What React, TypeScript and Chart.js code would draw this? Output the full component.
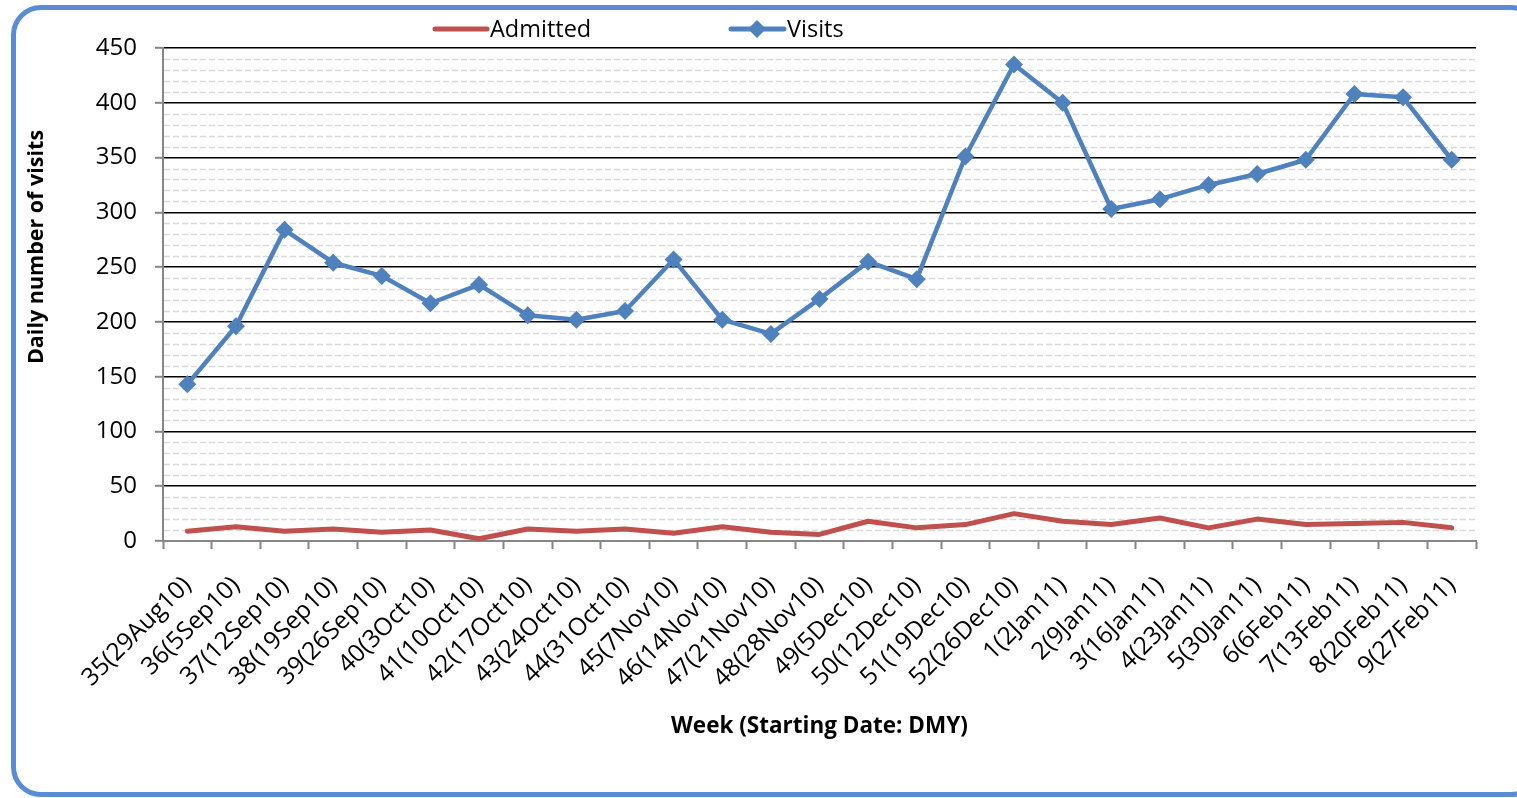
import React, { useEffect, useRef } from "react";
import { Chart, registerables } from "chart.js";

Chart.register(...registerables);

const weekLabels = [
  "35(29Aug10)", "36(5Sep10)", "37(12Sep10)", "38(19Sep10)", "39(26Sep10)",
  "40(3Oct10)", "41(10Oct10)", "42(17Oct10)", "43(24Oct10)", "44(31Oct10)",
  "45(7Nov10)", "46(14Nov10)", "47(21Nov10)", "48(28Nov10)", "49(5Dec10)",
  "50(12Dec10)", "51(19Dec10)", "52(26Dec10)", "1(2Jan11)", "2(9Jan11)",
  "3(16Jan11)", "4(23Jan11)", "5(30Jan11)", "6(6Feb11)", "7(13Feb11)",
  "8(20Feb11)", "9(27Feb11)",
];

const admitted = [9, 13, 9, 11, 8, 10, 2, 11, 9, 11, 7, 13, 8, 6, 18, 12, 15, 25, 18, 15, 21, 12, 20, 15, 16, 17, 12];

const visits = [143, 196, 284, 254, 242, 217, 234, 206, 202, 210, 257, 202, 189, 221, 255, 239, 351, 435, 400, 303, 312, 325, 335, 348, 408, 405, 348];

const yMin = 0;
const yMax = 450;
const yMajorStep = 50;
const yMinorStep = 10;

const xTitle = "Week (Starting Date: DMY)";
const yTitle = "Daily number of visits";
const seriesNames = ["Admitted", "Visits"];

const RED = "#C0504D";
const BLUE = "#4F81BD";
const FONT = "'Open Sans', 'DejaVu Sans', sans-serif";

export default function App() {
  const canvasRef = useRef<HTMLCanvasElement | null>(null);

  useEffect(() => {
    const canvas = canvasRef.current;
    if (!canvas) return;

    const minorGrid = {
      id: "minorGrid",
      beforeDatasetsDraw(chart: any) {
        const { ctx, chartArea } = chart;
        const ys = chart.scales.y;
        ctx.save();
        ctx.strokeStyle = "#D9D9D9";
        ctx.lineWidth = 1.5;
        ctx.setLineDash([6, 3]);
        for (let v = yMin + yMinorStep; v < yMax; v += yMinorStep) {
          if (v % yMajorStep === 0) continue;
          const py = Math.round(ys.getPixelForValue(v)) + 0.5;
          ctx.beginPath();
          ctx.moveTo(chartArea.left + 1, py);
          ctx.lineTo(chartArea.right, py);
          ctx.stroke();
        }
        ctx.restore();
      },
    };

    const extras = {
      id: "extras",
      afterDraw(chart: any) {
        const { ctx } = chart;
        ctx.save();
        // legend
        const ly = 29;
        ctx.lineCap = "round";
        ctx.lineWidth = 5;
        ctx.strokeStyle = RED;
        ctx.beginPath();
        ctx.moveTo(435, ly);
        ctx.lineTo(487, ly);
        ctx.stroke();
        ctx.strokeStyle = BLUE;
        ctx.beginPath();
        ctx.moveTo(731, ly);
        ctx.lineTo(784, ly);
        ctx.stroke();
        ctx.fillStyle = BLUE;
        ctx.beginPath();
        ctx.moveTo(757, ly - 9);
        ctx.lineTo(766, ly);
        ctx.lineTo(757, ly + 9);
        ctx.lineTo(748, ly);
        ctx.closePath();
        ctx.fill();
        ctx.fillStyle = "#000";
        ctx.font = `23.5px ${FONT}`;
        ctx.textBaseline = "middle";
        ctx.textAlign = "left";
        ctx.fillText(seriesNames[0], 490, ly + 1);
        ctx.fillText(seriesNames[1], 787, ly + 1);
        // y title
        ctx.translate(37, 247);
        ctx.rotate(-Math.PI / 2);
        ctx.font = `bold 21.5px ${FONT}`;
        ctx.textAlign = "center";
        ctx.fillText(yTitle, 0, 0);
        ctx.restore();
      },
    };

    const chart = new Chart(canvas, {
      type: "line",
      data: {
        labels: weekLabels,
        datasets: [
          {
            label: seriesNames[0],
            data: admitted,
            borderColor: RED,
            backgroundColor: RED,
            borderWidth: 5,
            pointRadius: 0,
            tension: 0,
            borderJoinStyle: "round",
            borderCapStyle: "round",
          },
          {
            label: seriesNames[1],
            data: visits,
            borderColor: BLUE,
            backgroundColor: BLUE,
            borderWidth: 4.5,
            pointStyle: "rectRot",
            pointRadius: 9,
            pointBorderWidth: 0,
            pointBackgroundColor: BLUE,
            tension: 0,
            borderJoinStyle: "round",
            borderCapStyle: "round",
          },
        ],
      },
      options: {
        responsive: false,
        animation: false,
        layout: { padding: { top: 48, right: 41, left: 0, bottom: 0 } },
        plugins: {
          legend: { display: false },
          tooltip: { enabled: false },
        },
        scales: {
          x: {
            type: "category",
            offset: true,
            afterFit(scale: any) {
              scale.height = 257;
            },
            grid: {
              drawOnChartArea: false,
              offset: true,
              drawTicks: true,
              tickLength: 8,
              tickColor: "#868686",
              tickWidth: 2,
            },
            border: { color: "#868686", width: 2 },
            ticks: {
              autoSkip: false,
              maxRotation: 45,
              minRotation: 45,
              color: "#000",
              padding: 22,
              font: { family: FONT, size: 24.5 },
            },
            title: {
              display: true,
              text: xTitle,
              color: "#000",
              font: { family: FONT, size: 22.5, weight: "bold" },
              padding: { top: 0, bottom: 58 },
            },
          },
          y: {
            min: yMin,
            max: yMax,
            afterFit(scale: any) {
              scale.width = 163;
            },
            grid: {
              color: (ctx: any) => (ctx.tick && ctx.tick.value === 0 ? "rgba(0,0,0,0)" : "#000"),
              lineWidth: 1.6,
              tickLength: 8,
              tickColor: "#868686",
              tickWidth: 2,
            },
            border: { color: "#868686", width: 2 },
            ticks: {
              stepSize: yMajorStep,
              color: "#000",
              padding: 18,
              font: { family: FONT, size: 24 },
            },
          },
        },
      },
      plugins: [minorGrid, extras],
    } as any);

    return () => chart.destroy();
  }, []);

  return (
    <div
      style={{
        position: "fixed",
        left: 0,
        top: 0,
        width: 1517,
        height: 798,
        overflow: "hidden",
        background: "#fff",
      }}
    >
      <div
        style={{
          position: "absolute",
          left: 11,
          top: 5,
          width: 1530,
          height: 792,
          boxSizing: "border-box",
          border: "5px solid #5A8CD5",
          borderRadius: 30,
        }}
      />
      <canvas
        ref={canvasRef}
        width={1517}
        height={798}
        style={{ position: "absolute", left: 0, top: 0, width: 1517, height: 798 }}
      />
    </div>
  );
}
